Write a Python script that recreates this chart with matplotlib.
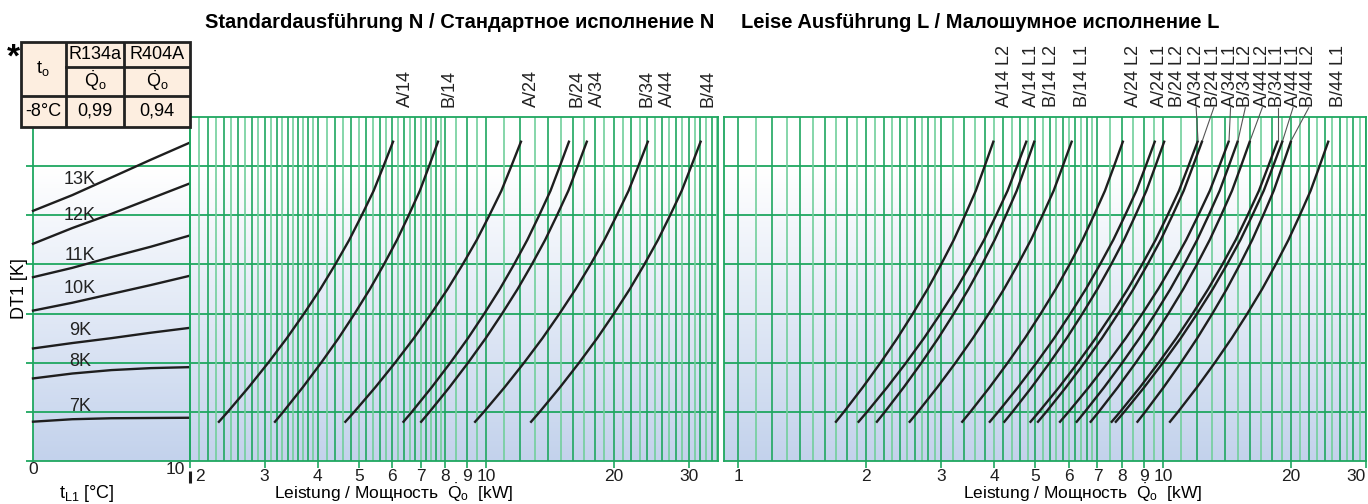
import numpy as np
import matplotlib.pyplot as plt
from matplotlib.colors import LinearSegmentedColormap
from matplotlib.patches import Rectangle
from matplotlib.ticker import NullLocator
import matplotlib.transforms as mtransforms

plt.rcParams['font.family'] = ['Liberation Sans', 'DejaVu Sans']
plt.rcParams['mathtext.fontset'] = 'custom'
plt.rcParams['mathtext.rm'] = 'Liberation Sans'
plt.rcParams['mathtext.it'] = 'Liberation Sans:italic'
plt.rcParams['mathtext.bf'] = 'Liberation Sans:bold'

# ---- data ----
# left panel: DT1 curves vs air inlet temperature t_L1
t_L1 = [0, 2.5, 5, 7.5, 10]
dt_names = ['7K', '8K', '9K', '10K', '11K', '12K', '13K']
dt_curves = [
    [0.80, 0.85, 0.87, 0.875, 0.88],
    [1.68, 1.78, 1.85, 1.89, 1.91],
    [2.29, 2.40, 2.50, 2.61, 2.71],
    [3.06, 3.22, 3.40, 3.58, 3.77],
    [3.74, 3.93, 4.15, 4.36, 4.59],
    [4.42, 4.74, 5.03, 5.34, 5.65],
    [5.09, 5.41, 5.77, 6.13, 6.48],
]
dt_label_y = [1.10, 2.02, 2.65, 3.51, 4.19, 4.99, 5.73]

# shape of the capacity curves (DT1 scale position vs. fraction of log-span),
# read along the A/14 curve
shape_y = [0.78, 1.0, 1.5, 2.0, 2.5, 3.0, 3.5, 4.0, 4.5, 5.0, 5.5, 6.0, 6.52]
shape_f = [0.0, 0.055, 0.174, 0.286, 0.392, 0.490, 0.583, 0.668, 0.748,
           0.819, 0.887, 0.943, 1.0]

# standard version N
n_names = ['A/14', 'B/14', 'A/24', 'B/24', 'A/34', 'B/34', 'A/44', 'B/44']
n_label_q = [6.45, 8.18, 12.8, 16.4, 18.3, 23.9, 26.8, 33.3]
n_q_low = [2.33, 3.16, 4.63, 6.35, 6.99, 9.37, 12.7]
n_q_high = [6.04, 7.71, 12.1, 15.7, 17.3, 24.1, 32.1]

# silent version L
l_names = ['A/14 L2', 'A/14 L1', 'B/14 L2', 'B/14 L1', 'A/24 L2', 'A/24 L1',
           'B/24 L2', 'A/34 L2', 'B/24 L1', 'A/34 L1', 'B/34 L2', 'A/44 L2',
           'B/34 L1', 'A/44 L1', 'B/44 L2', 'B/44 L1']
l_label_q = [4.23, 4.89, 5.46, 6.45, 8.50, 9.79, 10.8, 11.95, 13.15, 14.4,
             15.6, 17.1, 18.6, 20.2, 22.0, 25.8]
l_q_low = [1.69, 1.91, 2.11, 2.52, 3.35, 3.89, 4.21, 4.85, 5.05, 5.69,
           6.23, 6.72, 7.53, 7.70, 8.66, 10.33]
l_q_high = [3.99, 4.77, 4.98, 6.1, 8.05, 9.57, 10.07, 12.07, 12.36, 14.28,
            14.99, 16.01, 18.6, 19.1, 20.0, 24.5]
l_leader = [7, 8, 9, 10, 11, 12, 13, 14]

n_ticks = [2, 3, 4, 5, 6, 7, 8, 9, 10, 20, 30]
l_ticks = [1, 2, 3, 4, 5, 6, 7, 8, 9, 10, 20, 30]

table_rows = [['-8°C', '0,99', '0,94']]

# ---- figure ----
W, H = 1368, 504
GREEN = '#1fa760'
GREEN_L = '#72cf9c'
INK = '#1e1e1e'
FS = 13
TFS = 12.5
LFS = 12.5

fig = plt.figure(figsize=(W / 100, H / 100), dpi=100)


def px_axes(x0, x1, y0=117, y1=461):
    return fig.add_axes([x0 / W, 1 - y1 / H, (x1 - x0) / W, (y1 - y0) / H])


def shift(label, dx):
    label.set_transform(label.get_transform() +
                        mtransforms.ScaledTranslation(dx / 100, 0, fig.dpi_scale_trans))


def place_xlabel(ax, x):
    ax.xaxis.set_label_coords(x, -0.094)
    ax.xaxis.label.set_verticalalignment('center')


ax_t = px_axes(33, 190)
ax_n = px_axes(190, 718)
ax_l = px_axes(724, 1366)

bg = LinearSegmentedColormap.from_list('bg', [(0, '#c3d2ec'), (0.85, '#ffffff'), (1, '#ffffff')])
grad = np.linspace(0, 1, 256).reshape(-1, 1)

for ax in (ax_t, ax_n, ax_l):
    ax.imshow(grad, aspect='auto', cmap=bg, origin='lower', extent=(0, 1, 0, 1),
              transform=ax.transAxes, zorder=0)
    for s in ax.spines.values():
        s.set_color(GREEN)
        s.set_linewidth(1.3)
    for y in range(1, 7):
        ax.axhline(y, color=GREEN, lw=1.3, zorder=1)
    ax.set_ylim(0, 7)
    ax.set_yticks([])
    ax.tick_params(axis='x', colors=GREEN, length=5, width=1.2, labelcolor=INK,
                   labelsize=TFS, pad=0.5)

# left panel
ax_t.set_xlim(0, 10)
ax_t.set_yticks(range(8))
ax_t.set_yticklabels([])
ax_t.tick_params(axis='y', colors=GREEN, length=5, width=1.3)
for vals in dt_curves:
    ax_t.plot(t_L1, vals, color=INK, lw=1.7, zorder=3, clip_on=False)
for name, y in zip(dt_names, dt_label_y):
    ax_t.text(3.0, y, name, ha='center', va='center', fontsize=FS, color='#222', zorder=4)
ax_t.set_xticks([0, 10])
ax_t.set_xticklabels(['0', '10'])
ax_t.tick_params(axis='x', length=0)
lab10 = ax_t.get_xticklabels()[1]
lab10.set_horizontalalignment('right')
shift(lab10, -5)
tr = mtransforms.blended_transform_factory(ax_t.transData, ax_t.transAxes)
ax_t.plot([10, 10], [-0.03, -0.064], transform=tr, color=INK, lw=2.2,
          clip_on=False, solid_capstyle='butt')
ax_t.set_xlabel(r'$\mathrm{t}_{\mathrm{L1}}$ [°C]', fontsize=13)
place_xlabel(ax_t, 0.344)
ax_t.set_ylabel('DT1 [K]', fontsize=FS)
ax_t.yaxis.set_label_coords(-0.085, 0.5)
ax_t.yaxis.label.set_verticalalignment('center')


def log_grid(ax, steps):
    vals = []
    for a, b, s in steps:
        vals.extend(np.arange(a, b - 1e-9, s))
    for i, v in enumerate(vals):
        ax.axvline(v, color=GREEN if i % 2 == 0 else GREEN_L, lw=1.2, zorder=1)


def draw_curves(ax, lows, highs):
    f = np.array(shape_f)
    for lo, hi in zip(lows, highs):
        ax.plot(lo * (hi / lo) ** f, shape_y, color=INK, lw=1.7, zorder=3,
                solid_capstyle='butt', solid_joinstyle='round')


qlabel = 'Leistung / Мощность  ' + r'$\dot{\mathrm{Q}}_{\mathrm{o}}$' + '  [kW]'

# standard version N
ax_n.set_xscale('log')
log_grid(ax_n, [(2, 4, 0.1), (4, 8, 0.2), (8, 10, 0.5), (10, 36, 1)])
draw_curves(ax_n, n_q_low, n_q_high)
ax_n.set_xlim(2.0, 35.2)
ax_n.xaxis.set_minor_locator(NullLocator())
ax_n.set_xticks(n_ticks)
ax_n.set_xticklabels([str(v) for v in n_ticks])
lab2 = ax_n.get_xticklabels()[0]
lab2.set_horizontalalignment('left')
shift(lab2, 5)
for name, q in zip(n_names, n_label_q):
    ax_n.text(q, 7.2, name, rotation=90, ha='center', va='bottom', fontsize=FS,
              color='#222', clip_on=False)
ax_n.set_xlabel(qlabel, fontsize=LFS)
place_xlabel(ax_n, 0.386)

# silent version L
ax_l.set_xscale('log')
log_grid(ax_l, [(1, 3, 0.1), (3, 7, 0.2), (7, 10, 0.5), (10, 31, 1)])
draw_curves(ax_l, l_q_low, l_q_high)
ax_l.set_xlim(0.925, 30)
ax_l.xaxis.set_minor_locator(NullLocator())
ax_l.set_xticks(l_ticks)
ax_l.set_xticklabels([str(v) for v in l_ticks])
ax_l.get_xticklabels()[-1].set_horizontalalignment('right')
for i, (name, q) in enumerate(zip(l_names, l_label_q)):
    ax_l.text(q, 7.2, name, rotation=90, ha='center', va='bottom', fontsize=FS,
              color='#222', clip_on=False)
    if i in l_leader:
        ax_l.plot([q, l_q_high[i]], [7.19, 6.52], color='#555', lw=0.8,
                  clip_on=False, zorder=4)
ax_l.set_xlabel(qlabel, fontsize=LFS)
place_xlabel(ax_l, 0.558)

# titles
fig.text(205 / W, 1 - 22 / H, 'Standardausführung N / Стандартное исполнение N',
         fontsize=14.5, fontweight='bold', ha='left', va='center')
fig.text(741 / W, 1 - 22 / H, 'Leise Ausführung L / Малошумное исполнение L',
         fontsize=14.5, fontweight='bold', ha='left', va='center')

# correction table
tab = fig.add_axes([21 / W, 1 - 127 / H, 169 / W, 85 / H])
tab.set_zorder(10)
tab.set_xlim(0, 169)
tab.set_ylim(85, 0)
tab.axis('off')
tab.add_patch(Rectangle((0, 0), 169, 85, facecolor='#fdeee0', edgecolor='#222',
                        lw=2, clip_on=False))
tab.plot([44.7, 44.7], [0, 85], color='#222', lw=2)
tab.plot([103.3, 103.3], [0, 85], color='#222', lw=2)
tab.plot([0, 169], [53.7, 53.7], color='#222', lw=2)
tab.plot([44.7, 169], [24.7, 24.7], color='#222', lw=2)
qdot = r'$\dot{\mathrm{Q}}_{\mathrm{o}}$'
tab.text(22, 27, r'$\mathrm{t}_{\mathrm{o}}$', ha='center', va='center', fontsize=FS)
tab.text(74, 12.5, 'R134a', ha='center', va='center', fontsize=FS)
tab.text(136, 12.5, 'R404A', ha='center', va='center', fontsize=FS)
tab.text(74, 39, qdot, ha='center', va='center', fontsize=FS)
tab.text(136, 39, qdot, ha='center', va='center', fontsize=FS)
for x, s in zip([22, 74, 136], table_rows[0]):
    tab.text(x, 69.5, s, ha='center', va='center', fontsize=FS)
fig.text(13 / W, 1 - 58 / H, '*', fontsize=24, fontweight='bold', ha='center', va='center')

fig.savefig('out.png', dpi=100)
